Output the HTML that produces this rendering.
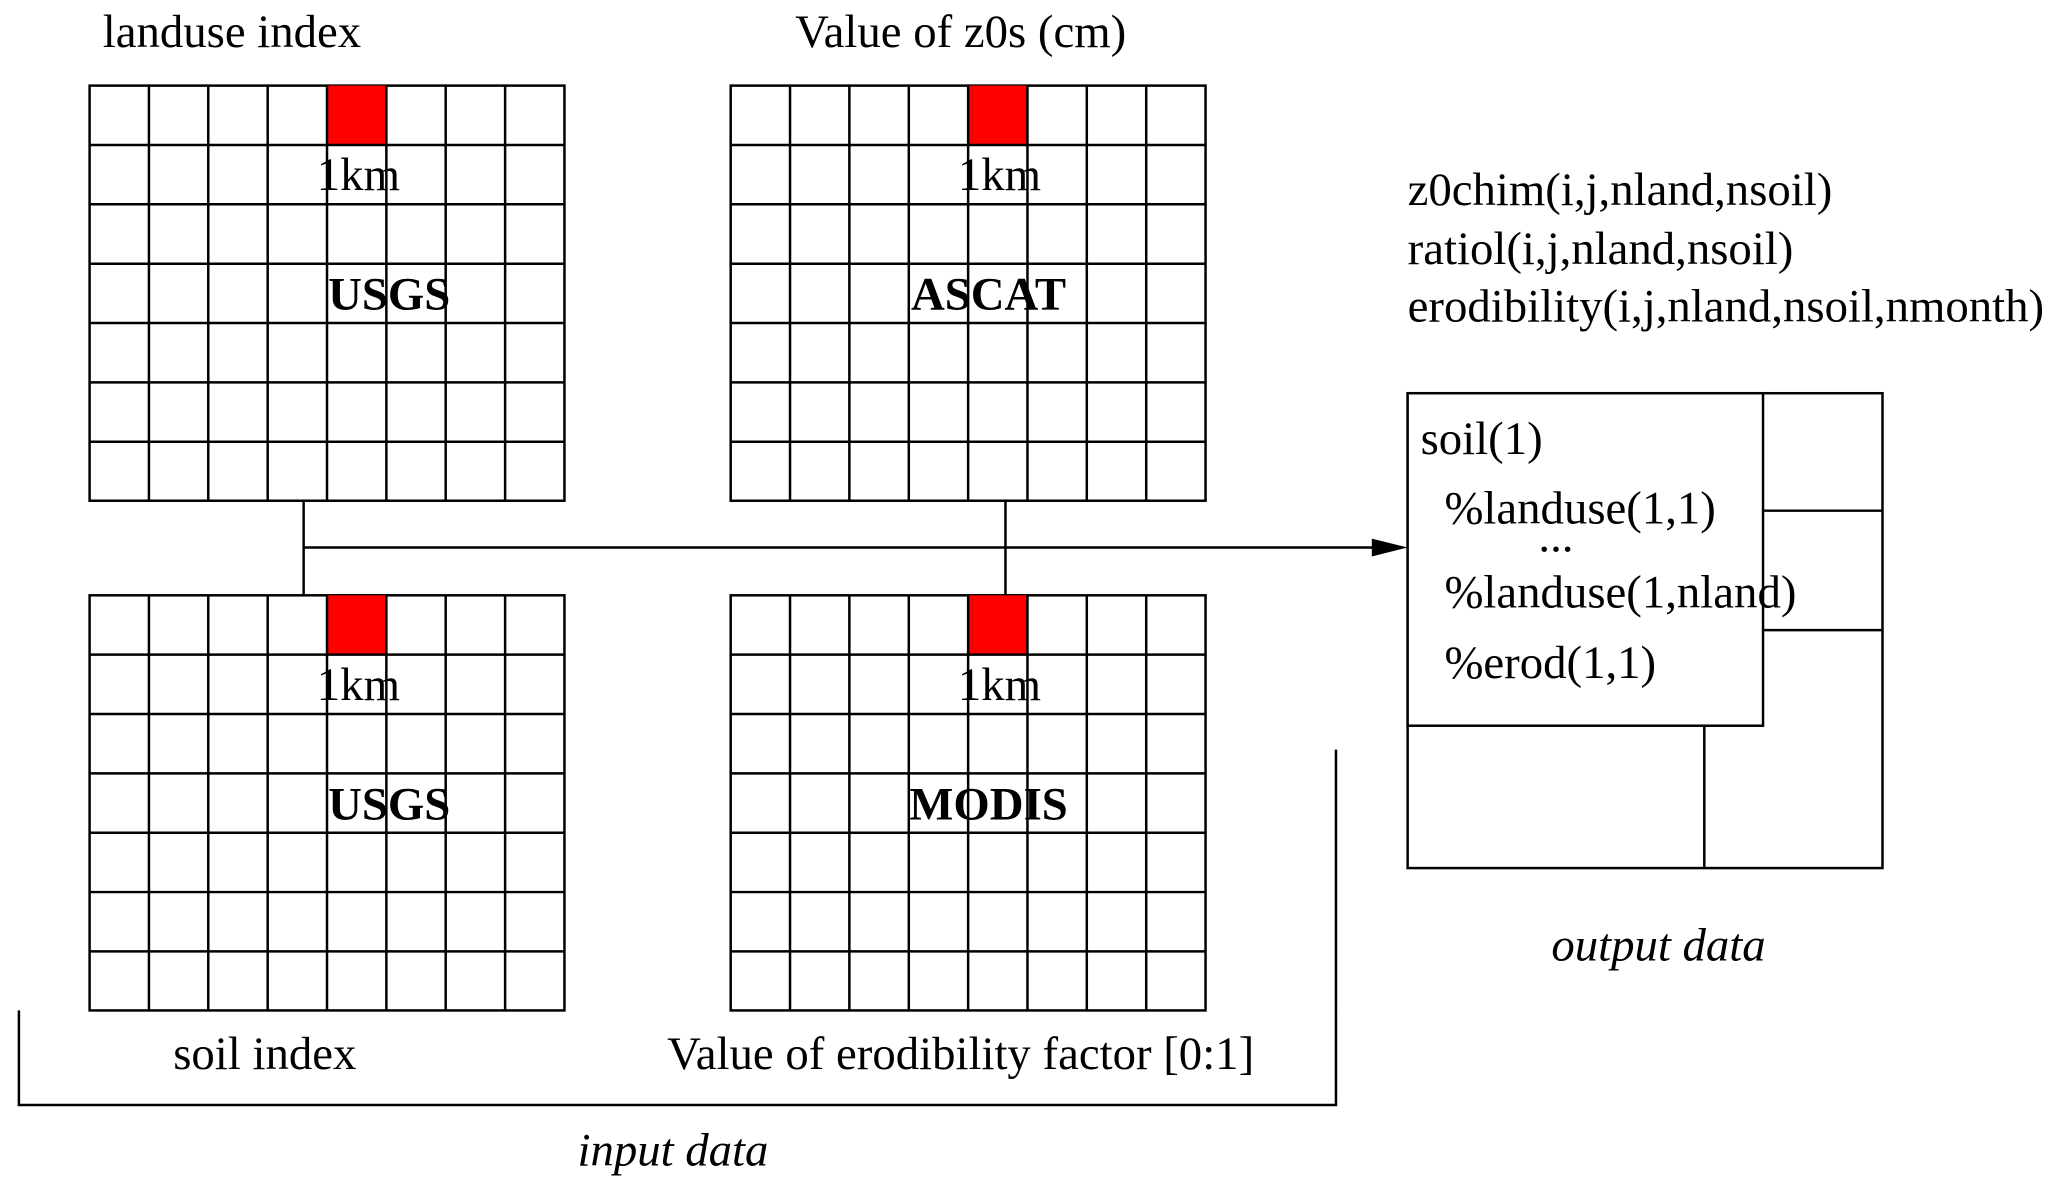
<!DOCTYPE html>
<html><head><meta charset="utf-8"><style>
html,body{margin:0;padding:0;background:#fff;}
svg{display:block;}
text{font-family:"Liberation Serif",serif;font-size:47px;fill:#000;}
</style></head><body>
<svg width="2067" height="1192" viewBox="0 0 2067 1192" xmlns="http://www.w3.org/2000/svg">
<defs>
<g id="grid">
<rect x="0" y="0" width="477" height="417" fill="#fff" stroke="#000" stroke-width="2.5"/>
<rect x="238.5" y="0" width="59.6" height="59.6" fill="#f00"/>
<g stroke="#000" stroke-width="2.5">
<line x1="59.6" y1="0" x2="59.6" y2="417"/><line x1="119.2" y1="0" x2="119.2" y2="417"/>
<line x1="178.9" y1="0" x2="178.9" y2="417"/><line x1="238.5" y1="0" x2="238.5" y2="417"/>
<line x1="298.1" y1="0" x2="298.1" y2="417"/><line x1="357.7" y1="0" x2="357.7" y2="417"/>
<line x1="417.4" y1="0" x2="417.4" y2="417"/>
<line x1="0" y1="59.6" x2="477" y2="59.6"/><line x1="0" y1="119.2" x2="477" y2="119.2"/>
<line x1="0" y1="178.9" x2="477" y2="178.9"/><line x1="0" y1="238.5" x2="477" y2="238.5"/>
<line x1="0" y1="298.1" x2="477" y2="298.1"/><line x1="0" y1="357.7" x2="477" y2="357.7"/>
</g>
<text x="270" y="105" text-anchor="middle">1km</text>
</g>
</defs>
<g transform="scale(0.9955)">
<use href="#grid" x="90" y="86"/>
<use href="#grid" x="734" y="86"/>
<use href="#grid" x="90" y="598"/>
<use href="#grid" x="734" y="598"/>
<text x="391" y="311" text-anchor="middle" font-weight="bold">USGS</text>
<text x="993" y="311" text-anchor="middle" font-weight="bold">ASCAT</text>
<text x="391" y="823" text-anchor="middle" font-weight="bold">USGS</text>
<text x="993" y="823" text-anchor="middle" font-weight="bold">MODIS</text>
<text x="233" y="47" text-anchor="middle">landuse index</text>
<text x="965" y="47" text-anchor="middle">Value of z0s (cm)</text>
<text x="266" y="1074" text-anchor="middle">soil index</text>
<text x="965" y="1074" text-anchor="middle">Value of erodibility factor [0:1]</text>
<text x="676" y="1171" text-anchor="middle" font-style="italic">input data</text>
<text x="1666" y="965" text-anchor="middle" font-style="italic">output data</text>
<g stroke="#000" stroke-width="2.5" fill="none">
<line x1="305" y1="503" x2="305" y2="598"/>
<line x1="1010" y1="503" x2="1010" y2="598"/>
<line x1="305" y1="550" x2="1380" y2="550"/>
<polyline points="19,1015 19,1110 1342,1110 1342,753"/>
<rect x="1414" y="395" width="477" height="477"/>
<rect x="1414" y="395" width="357" height="334" fill="#fff"/>
<line x1="1771" y1="513" x2="1891" y2="513"/>
<line x1="1771" y1="633" x2="1891" y2="633"/>
<line x1="1712" y1="729" x2="1712" y2="872"/>
</g>
<polygon points="1414,550 1378,541 1378,559" fill="#000"/>
<text x="1414" y="206">z0chim(i,j,nland,nsoil)</text>
<text x="1414" y="265">ratiol(i,j,nland,nsoil)</text>
<text x="1414" y="323">erodibility(i,j,nland,nsoil,nmonth)</text>
<text x="1427" y="456">soil(1)</text>
<text x="1451" y="526">%landuse(1,1)</text>
<text x="1563" y="554" text-anchor="middle">...</text>
<text x="1451" y="610">%landuse(1,nland)</text>
<text x="1451" y="681">%erod(1,1)</text>
</g>
</svg>
</body></html>
